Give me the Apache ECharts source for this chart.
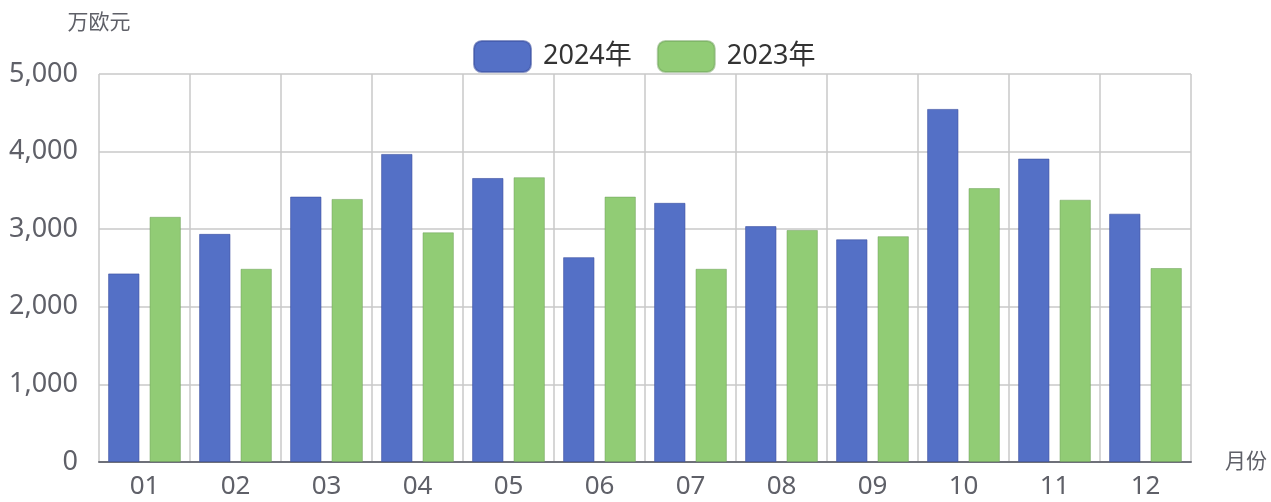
<!DOCTYPE html>
<html>
<head>
<meta charset="utf-8">
<script src="https://cdn.jsdelivr.net/npm/echarts@6/dist/echarts.min.js"></script>
<style>html,body{margin:0;padding:0;background:#fff}#c{width:1271px;height:502px}</style>
</head>
<body>
<div id="c"></div>
<script>
const months = ['01','02','03','04','05','06','07','08','09','10','11','12'];
const s2024 = [2430, 2940, 3420, 3970, 3660, 2640, 3340, 3040, 2870, 4550, 3910, 3200];
const s2023 = [3160, 2490, 3390, 2960, 3670, 3420, 2490, 2990, 2910, 3530, 3380, 2500];
const seriesNames = ['2024年', '2023年'];
const yTicks = [0, 1000, 2000, 3000, 4000, 5000];

const font = '"Noto Sans", "Noto Sans CJK SC", sans-serif';
const chart = echarts.init(document.getElementById('c'));
chart.setOption({
  animation: false,
  color: ['#5470c6', '#91cc75'],
  textStyle: { fontFamily: font },
  legend: {
    top: 35,
    left: 468,
    itemWidth: 57,
    itemHeight: 31,
    itemGap: 25,
    icon: 'roundRect',
    textStyle: { fontSize: 27, color: '#333', fontFamily: font, padding: [0, 0, 0, 7] },
    data: seriesNames
  },
  grid: { left: 99, right: 80, top: 74, bottom: 40, containLabel: false },
  xAxis: {
    type: 'category',
    data: months,
    name: '月份',
    nameGap: 34,
    nameTextStyle: { fontSize: 21, color: '#5f6068', fontFamily: font },
    axisLine: { lineStyle: { color: '#6e7079', width: 2 } },
    axisTick: { lineStyle: { color: '#6e7079', width: 2 }, length: 9 },
    axisLabel: { fontSize: 26, color: '#5f6068', margin: 12, fontFamily: font },
    splitLine: { show: true, lineStyle: { color: '#c8c8c8', width: 1.5 } }
  },
  yAxis: {
    type: 'value',
    min: yTicks[0],
    max: yTicks[yTicks.length - 1],
    interval: 1000,
    name: '万欧元',
    nameGap: 40,
    nameTextStyle: { fontSize: 21, color: '#5f6068', fontFamily: font },
    axisLine: { show: false },
    axisLabel: {
      fontSize: 27, color: '#5f6068', margin: 21, fontFamily: font,
      formatter: v => v.toLocaleString('en-US')
    },
    splitLine: { show: true, lineStyle: { color: '#c8c8c8', width: 1.5 } }
  },
  series: [
    { name: seriesNames[0], type: 'bar', data: s2024, barGap: '32%', barCategoryGap: '20%',
      itemStyle: { borderColor: 'rgba(60,80,160,0.6)', borderWidth: 1 } },
    { name: seriesNames[1], type: 'bar', data: s2023, barGap: '32%', barCategoryGap: '20%',
      itemStyle: { borderColor: 'rgba(110,160,90,0.5)', borderWidth: 1 } }
  ]
});
</script>
</body>
</html>
